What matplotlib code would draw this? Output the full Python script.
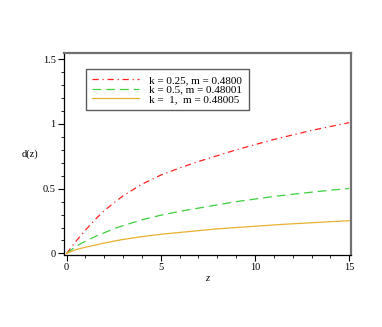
import matplotlib
matplotlib.use("Agg")
from matplotlib import pyplot as plt
from matplotlib.ticker import MultipleLocator

# values
z = [0, 0.5, 1, 1.5, 2, 2.5, 3, 4, 5, 6, 7, 8, 9, 10, 11, 12, 13, 14, 15]
d_k025 = [0, 0.095, 0.18, 0.26, 0.33, 0.39, 0.445, 0.535, 0.605, 0.66, 0.71,
          0.755, 0.80, 0.84, 0.88, 0.915, 0.95, 0.98, 1.01]
d_k05 = [0, 0.055, 0.095, 0.13, 0.16, 0.19, 0.215, 0.26, 0.295, 0.325, 0.35,
         0.375, 0.40, 0.42, 0.44, 0.457, 0.473, 0.488, 0.502]
d_k1 = [0, 0.03, 0.048, 0.064, 0.08, 0.095, 0.108, 0.13, 0.148, 0.162, 0.176,
        0.19, 0.20, 0.21, 0.22, 0.229, 0.237, 0.245, 0.253]
labels = ["k = 0.25, m = 0.4800", "k = 0.5, m = 0.48001", "k =  1,  m = 0.48005"]

plt.rcParams["font.family"] = ["Liberation Serif", "DejaVu Serif"]

fig = plt.figure(figsize=(3.82, 3.27), dpi=100)
ax = fig.add_axes([0.1675, 0.2202, 0.7515, 0.6186])

ax.plot(z, d_k025, color="#ff2020", lw=0.9, linestyle=(0, (5, 3, 1, 3)), label=labels[0])
ax.plot(z, d_k05, color="#3fcf3f", lw=0.9, linestyle=(0, (7, 4)), label=labels[1])
ax.plot(z, d_k1, color="#e8b030", lw=0.9, label=labels[2])

ax.set_xlim(-0.14, 15.1)
ax.set_ylim(-0.012, 1.55)
ax.xaxis.set_minor_locator(MultipleLocator(1))
ax.yaxis.set_minor_locator(MultipleLocator(0.1))
ax.set_xticks([0, 5, 10, 15], ["0", "5", "10", "15"])
ax.set_yticks([0, 0.5, 1, 1.5], ["0", "0.5", "1", "1.5"])
ax.tick_params(which="major", direction="out", length=4, width=0.8, labelsize=7.5, pad=2)
ax.tick_params(which="minor", direction="out", length=2, width=0.6)

for side in ["left", "bottom"]:
    ax.spines[side].set_linewidth(0.9)
for side in ["top", "right"]:
    ax.spines[side].set_color("#707070")
    ax.spines[side].set_linewidth(1.6)

ax.set_xlabel("z", fontsize=7.5, style="italic", labelpad=1)
ax.set_ylabel("d(z)", fontsize=7.5, rotation=0, labelpad=9, va="center")

leg = ax.legend(loc="upper left", bbox_to_anchor=(0.075, 0.92), fontsize=8,
                frameon=True, fancybox=False, handlelength=4.3, handletextpad=0.9,
                labelspacing=0.0, borderpad=0.55, borderaxespad=0)
leg.get_frame().set_edgecolor("#333333")
leg.get_frame().set_linewidth(1.0)

fig.savefig("out.png", dpi=100)
